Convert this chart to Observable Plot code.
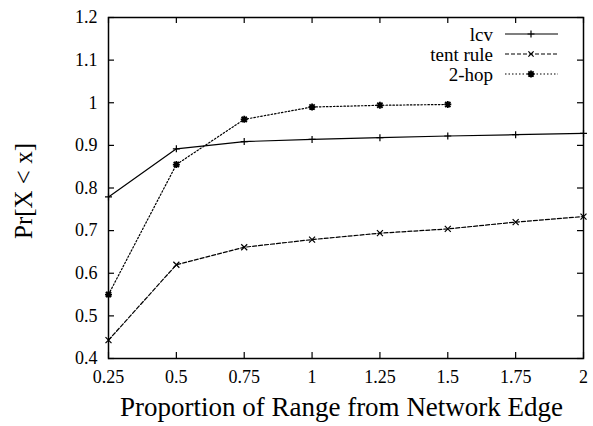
<!DOCTYPE html>
<html><head><meta charset="utf-8">
<script src="https://cdn.jsdelivr.net/npm/d3@7"></script>
<script src="https://cdn.jsdelivr.net/npm/@observablehq/plot@0.6"></script>
<style>
body{margin:0;background:#fff;}
#wrap{position:relative;width:593px;height:426px;font-family:"Liberation Serif","Times New Roman",serif;color:#000;}
.abs{position:absolute;white-space:nowrap;}
</style></head><body><div id="wrap"></div>
<script>
// ---- data ----
const xTicks = [0.25, 0.5, 0.75, 1, 1.25, 1.5, 1.75, 2];
const yTicks = [0.4, 0.5, 0.6, 0.7, 0.8, 0.9, 1, 1.1, 1.2];
const xLcv = [0.25, 0.5, 0.75, 1, 1.25, 1.5, 1.75, 2];
const lcv = [0.779, 0.892, 0.909, 0.914, 0.918, 0.922, 0.925, 0.928];
const xTent = [0.25, 0.5, 0.75, 1, 1.25, 1.5, 1.75, 2];
const tent = [0.443, 0.620, 0.661, 0.679, 0.694, 0.704, 0.720, 0.733];
const xHop = [0.25, 0.5, 0.75, 1, 1.25, 1.5];
const hop = [0.550, 0.855, 0.961, 0.990, 0.994, 0.996];
const seriesNames = ["lcv", "tent rule", "2-hop"];
const xTitle = "Proportion of Range from Network Edge";
const yTitle = "Pr[X < x]";

// ---- symbols ----
const plusSym = {draw(c, size){const s = Math.sqrt(size/Math.PI); c.moveTo(-s,0); c.lineTo(s,0); c.moveTo(0,-s); c.lineTo(0,s);}};
const crossSym = {draw(c, size){const s = Math.sqrt(size/Math.PI)*0.75; c.moveTo(-s,-s); c.lineTo(s,s); c.moveTo(-s,s); c.lineTo(s,-s);}};
const starSym = {draw(c, size){plusSym.draw(c,size); crossSym.draw(c,size);}};

const toRows = (xs, ys, name) => xs.map((x, i) => ({x, y: ys[i], name}));
const dLcv = toRows(xLcv, lcv, seriesNames[0]);
const dTent = toRows(xTent, tent, seriesNames[1]);
const dHop = toRows(xHop, hop, seriesNames[2]);

const W = 593, H = 426, mL = 108, mR = 10, mT = 17, mB = 68;
const fh = H - mT - mB, fw = W - mL - mR, tk = 6;

const chart = Plot.plot({
  width: W, height: H, marginLeft: mL, marginRight: mR, marginTop: mT, marginBottom: mB,
  style: {fontFamily: '"Liberation Serif", serif', fontSize: "18px", background: "white", color: "black"},
  x: {domain: [0.25, 2]},
  y: {domain: [0.4, 1.2]},
  marks: [
    Plot.tickX(xTicks, {x: d => d, insetTop: fh - tk, stroke: "black", strokeWidth: 1.2}),
    Plot.tickX(xTicks, {x: d => d, insetBottom: fh - tk, stroke: "black", strokeWidth: 1.2}),
    Plot.tickY(yTicks, {y: d => d, insetRight: fw - tk, stroke: "black", strokeWidth: 1.2}),
    Plot.tickY(yTicks, {y: d => d, insetLeft: fw - tk, stroke: "black", strokeWidth: 1.2}),
    Plot.axisX(xTicks, {tickSize: 0, tickPadding: 12, tickFormat: d => String(d), fontSize: 18, label: null}),
    Plot.axisY(yTicks, {tickSize: 0, tickPadding: 11, tickFormat: d => String(d), fontSize: 18, label: null}),
    Plot.line(dLcv, {x: "x", y: "y", stroke: "black", strokeWidth: 1.2}),
    Plot.line(dTent, {x: "x", y: "y", stroke: "black", strokeWidth: 1.2, strokeDasharray: "4,2"}),
    Plot.line(dHop, {x: "x", y: "y", stroke: "black", strokeWidth: 1.2, strokeDasharray: "1.5,2"}),
    Plot.dot(dLcv, {x: "x", y: "y", symbol: plusSym, r: 3.5, stroke: "black", fill: "none", strokeWidth: 1.2}),
    Plot.dot(dTent, {x: "x", y: "y", symbol: crossSym, r: 4, stroke: "black", fill: "none", strokeWidth: 1.2}),
    Plot.dot(dHop, {x: "x", y: "y", symbol: starSym, r: 3.5, stroke: "black", fill: "none", strokeWidth: 1.8}),
    Plot.frame({stroke: "black", strokeWidth: 1.5})
  ]
});
const wrap = document.getElementById("wrap");
wrap.appendChild(chart);

// axis titles
const xt = document.createElement("div");
xt.className = "abs"; xt.textContent = xTitle;
xt.style.cssText += `left:${mL + fw/2 - 4}px;top:407px;transform:translate(-50%,-50%);font-size:27px;`;
wrap.appendChild(xt);
const yt = document.createElement("div");
yt.className = "abs"; yt.textContent = yTitle;
yt.style.cssText += `left:24px;top:191px;transform:translate(-50%,-50%) rotate(-90deg);font-size:25px;`;
wrap.appendChild(yt);

// legend
const legendStyles = [
  {dash: null, sym: plusSym, sw: 1.2},
  {dash: "4,2", sym: crossSym, sw: 1.2},
  {dash: "1.5,2", sym: starSym, sw: 1.8}
];
const rowY = [34, 54, 74];
seriesNames.forEach((name, i) => {
  const t = document.createElement("div");
  t.className = "abs"; t.textContent = name;
  t.style.cssText += `right:${W - 493}px;top:${rowY[i]}px;transform:translateY(-50%);font-size:19px;line-height:1;`;
  wrap.appendChild(t);
  const svg = d3.create("svg").attr("width", 56).attr("height", 12)
    .style("position", "absolute").style("left", "503px").style("top", (rowY[i] - 6) + "px");
  const ln = svg.append("line").attr("x1", 2).attr("x2", 55).attr("y1", 6).attr("y2", 6)
    .attr("stroke", "black").attr("stroke-width", 1.2);
  if (legendStyles[i].dash) ln.attr("stroke-dasharray", legendStyles[i].dash);
  svg.append("path").attr("transform", "translate(28,6)")
    .attr("d", d3.symbol(legendStyles[i].sym, Math.PI * 3.5 * 3.5)())
    .attr("stroke", "black").attr("fill", "none").attr("stroke-width", legendStyles[i].sw);
  wrap.appendChild(svg.node());
});
</script>
</body></html>
